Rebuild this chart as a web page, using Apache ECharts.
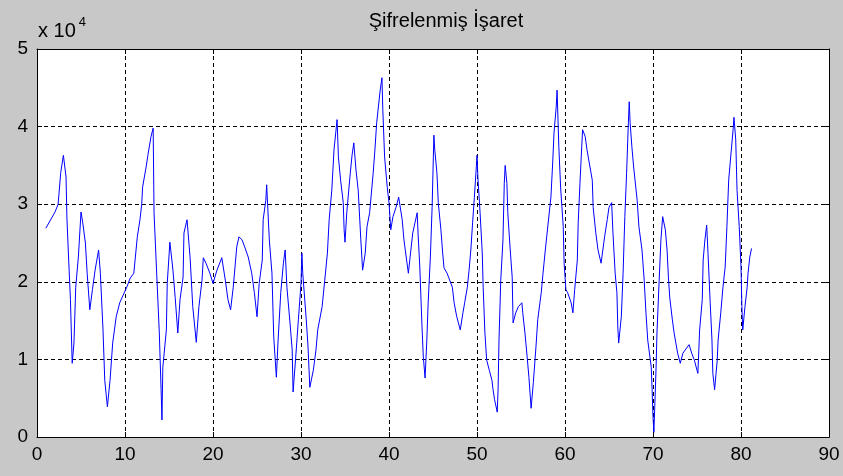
<!DOCTYPE html>
<html><head><meta charset="utf-8">
<script src="https://cdn.jsdelivr.net/npm/echarts@6/dist/echarts.min.js"></script>
<style>html,body{margin:0;padding:0;background:#c8c8c8;}#c{width:843px;height:476px;}</style>
</head><body><div id="c"></div>
<script>
const title = 'Şifrelenmiş İşaret';
const xTicks = [0,10,20,30,40,50,60,70,80,90];
const yTicks = [0,1,2,3,4,5];
// x positions of the signal samples
const xs = [1.0,2.05,2.4,2.7,3.0,3.3,3.4,3.6,3.8,4.0,4.2,4.4,4.7,5.0,5.2,5.5,5.7,6.0,6.3,6.6,7.0,7.2,7.5,7.7,8.0,8.3,8.6,9.0,9.4,10.2,10.6,11.0,11.4,11.7,11.9,12.0,12.4,12.6,12.95,13.2,13.3,13.6,13.9,14.1,14.2,14.3,14.7,14.8,15.1,15.45,15.7,16.0,16.25,16.6,16.7,17.05,17.4,17.7,18.1,18.4,18.75,18.9,19.2,19.65,20.0,20.45,21.0,21.4,21.7,22.0,22.3,22.7,22.95,23.3,23.6,24.0,24.4,24.7,25.0,25.25,25.6,25.7,26.0,26.1,26.4,26.7,26.9,27.2,27.4,27.7,28.0,28.2,28.4,28.75,29.0,29.1,29.4,29.7,30.0,30.1,30.2,30.6,30.8,31.0,31.4,31.7,31.9,32.4,32.7,33.0,33.2,33.5,33.75,34.1,34.25,34.5,34.8,34.9,35.0,35.2,35.6,35.8,36.0,36.25,36.5,36.8,37.0,37.3,37.5,37.8,38.2,38.4,38.6,39.0,39.2,39.3,39.5,39.8,40.0,40.2,40.45,40.8,41.1,41.5,41.7,42.0,42.2,42.4,42.7,42.95,43.2,43.3,43.5,43.75,43.9,44.1,44.3,44.45,44.7,44.9,45.1,45.2,45.45,45.6,45.9,46.1,46.25,46.6,46.8,47.2,47.4,47.7,48.1,48.4,48.6,48.9,49.1,49.3,49.5,49.7,49.9,50.0,50.1,50.35,50.6,50.7,50.9,51.1,51.4,51.7,51.8,52.0,52.3,52.4,52.5,52.7,52.95,53.1,53.2,53.4,53.5,53.75,54.0,54.1,54.4,54.7,55.1,55.2,55.45,55.7,55.9,56.15,56.4,56.7,56.9,57.3,57.5,57.8,58.1,58.4,58.6,58.75,59.0,59.1,59.3,59.5,59.8,59.9,60.1,60.3,60.7,60.9,61.1,61.4,61.5,61.7,61.9,62.0,62.3,62.5,62.7,63.1,63.2,63.5,63.75,64.1,64.3,64.5,64.8,65.0,65.3,65.45,65.7,65.9,66.0,66.1,66.4,66.6,66.8,67.0,67.2,67.3,67.4,67.6,67.8,68.2,68.4,68.75,69.0,69.2,69.4,69.8,69.9,70.0,70.1,70.2,70.35,70.45,70.7,70.9,71.1,71.4,71.6,71.75,71.9,72.2,72.4,72.6,72.8,73.1,73.4,73.9,74.1,74.4,74.7,75.0,75.1,75.3,75.6,75.7,75.9,76.1,76.25,76.5,76.7,76.8,77.0,77.3,77.4,77.7,77.95,78.2,78.4,78.6,78.9,79.1,79.2,79.4,79.55,79.8,80.0,80.1,80.2,80.45,80.7,80.8,81.0,81.2];
// signal values in units of 10^4
const ys = [2.69,2.9,3.0,3.41,3.63,3.35,2.82,2.28,1.77,0.95,1.21,1.93,2.32,2.9,2.76,2.5,2.11,1.64,1.9,2.15,2.41,2.11,1.38,0.73,0.39,0.73,1.21,1.55,1.73,1.93,2.05,2.11,2.58,2.8,3.0,3.22,3.48,3.63,3.87,3.98,2.89,2.11,1.34,0.61,0.22,0.9,1.38,1.98,2.51,2.15,1.8,1.34,1.77,2.06,2.63,2.8,2.31,1.68,1.22,1.68,2.02,2.31,2.24,2.11,1.98,2.15,2.31,2.02,1.77,1.64,1.93,2.45,2.58,2.54,2.45,2.32,2.11,1.86,1.55,1.98,2.28,2.8,3.05,3.25,2.54,2.11,1.29,0.77,1.25,1.86,2.24,2.41,1.93,1.47,1.12,0.58,1.03,1.51,1.98,2.37,2.11,1.51,1.16,0.64,0.86,1.12,1.38,1.68,2.02,2.37,2.8,3.18,3.7,4.09,3.61,3.31,3.02,2.67,2.51,2.89,3.4,3.63,3.79,3.44,3.18,2.54,2.15,2.37,2.71,2.89,3.4,3.7,4.05,4.47,4.63,4.21,3.61,3.22,3.02,2.67,2.84,2.96,3.09,2.8,2.54,2.28,2.11,2.32,2.63,2.76,2.89,2.63,2.19,1.42,1.03,0.76,1.25,1.73,2.32,2.96,3.89,3.7,3.4,3.02,2.67,2.37,2.18,2.11,2.05,1.93,1.73,1.55,1.38,1.6,1.73,1.93,2.15,2.41,2.76,3.09,3.44,3.63,3.35,2.89,2.37,1.93,1.34,0.99,0.86,0.73,0.63,0.48,0.32,0.63,1.25,2.02,2.54,3.27,3.5,3.27,2.89,2.45,2.06,1.47,1.6,1.68,1.73,1.6,1.34,1.03,0.77,0.37,0.7,1.16,1.51,1.86,2.11,2.45,2.77,3.09,3.53,3.92,4.25,4.47,3.74,3.22,2.71,2.24,1.9,1.86,1.73,1.6,1.9,2.28,2.76,3.27,3.74,3.96,3.87,3.7,3.57,3.31,2.96,2.63,2.41,2.24,2.41,2.58,2.8,2.96,3.02,2.63,2.11,1.86,1.42,1.21,1.55,2.11,2.84,3.4,4.05,4.32,4.05,3.74,3.48,3.05,2.71,2.41,2.02,1.6,1.25,0.9,0.61,0.26,0.06,0.39,0.9,1.34,2.02,2.54,2.84,2.67,2.41,2.06,1.8,1.51,1.34,1.21,1.08,0.95,1.08,1.16,1.19,1.08,0.99,0.86,0.82,1.38,1.77,2.28,2.54,2.73,2.37,1.73,1.25,0.82,0.61,0.99,1.25,1.6,1.93,2.19,2.71,3.31,3.7,3.96,4.12,3.83,3.18,2.71,2.19,1.68,1.38,1.68,1.93,2.11,2.32,2.43];

const chart = echarts.init(document.getElementById('c'), null, {renderer:'canvas'});
const font = 'Arial, "Liberation Sans", sans-serif';
const gridLine = {show:true, lineStyle:{color:'#000', type:[4,3], width:1}};
const axLine = {show:true, onZero:false, lineStyle:{color:'#000', width:1}};
const axTick = {show:true, inside:true, length:5, lineStyle:{color:'#000'}};
chart.setOption({
  backgroundColor:'#c8c8c8',
  animation:false,
  title:{text:title, left:441, top:6, textAlign:'center',
    textStyle:{fontFamily:font, fontSize:20, fontWeight:'normal', color:'#000'}},
  graphic:[{type:'text', left:38, top:16, style:{
    text:'{a|x 10}{b|4}', rich:{a:{fontFamily:font,fontSize:20,fill:'#000',verticalAlign:'bottom'},
      b:{fontFamily:font,fontSize:13,fill:'#000',verticalAlign:'top',padding:[0,0,12,3]}}}}],
  grid:{left:37, right:14, top:49, bottom:39, show:true, backgroundColor:'#fff', borderWidth:0},
  xAxis:[
    {type:'value', min:0, max:90, interval:10, axisLine:axLine, axisTick:axTick, splitLine:gridLine,
      axisLabel:{color:'#000', fontFamily:font, fontSize:19, margin:8}},
    {type:'value', position:'top', min:0, max:90, interval:10, axisLine:axLine, axisTick:axTick,
      splitLine:{show:false}, axisLabel:{show:false}}
  ],
  yAxis:[
    {type:'value', min:0, max:5, interval:1, axisLine:axLine, axisTick:axTick, splitLine:gridLine,
      axisLabel:{color:'#000', fontFamily:font, fontSize:19, margin:9}},
    {type:'value', position:'right', min:0, max:5, interval:1, axisLine:axLine, axisTick:axTick,
      splitLine:{show:false}, axisLabel:{show:false}}
  ],
  series:[{type:'line', data:xs.map((x,i)=>[x,ys[i]]), showSymbol:false, symbol:'none',
    lineStyle:{color:'#0000ff', width:1}, itemStyle:{color:'#0000ff'}}]
});
</script></body></html>
